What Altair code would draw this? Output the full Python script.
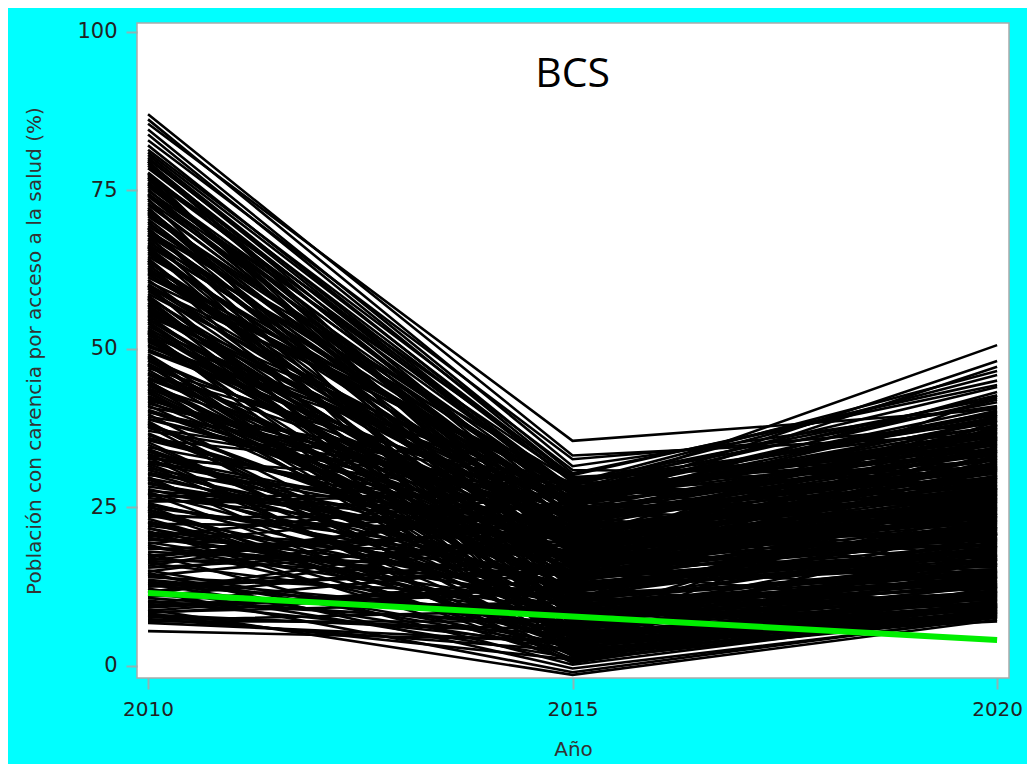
import altair as alt
import pandas as pd

years = [2010, 2015, 2020]

v2010 = [
    87.0, 86.2, 85.5, 84.6, 83.8, 82.9, 82.1, 81.4, 80.6, 79.9,
    79.2, 78.5, 77.8, 77.1, 76.3, 75.6, 74.9, 74.1, 73.4, 72.7,
    72.0, 71.2, 70.5, 69.8, 69.0, 68.3, 67.5, 66.8, 66.1, 65.3,
    64.6, 63.9, 63.1, 62.4, 61.7, 60.9, 60.2, 59.5, 58.7, 58.0,
    57.3, 56.5, 55.8, 55.1, 54.3, 53.6, 52.9, 52.1, 51.4, 50.7,
    49.9, 49.2, 48.5, 47.7, 47.0, 46.3, 45.5, 44.8, 44.1, 43.3,
    42.6, 41.9, 41.1, 40.4, 39.7, 38.9, 38.2, 37.5, 36.7, 36.0,
    35.3, 34.5, 33.8, 33.1, 32.3, 31.6, 30.9, 30.1, 29.4, 28.7,
    27.9, 27.2, 26.5, 25.7, 25.0, 24.3, 23.5, 22.8, 22.1, 21.3,
    20.6, 19.9, 19.1, 18.4, 17.7, 16.9, 16.2, 15.5, 14.7, 14.0,
    13.3, 12.5, 11.8, 11.1, 10.3, 9.6, 8.9, 8.1, 7.4, 5.5,
    78.9, 76.7, 74.5, 71.6, 69.4, 67.2, 65.0, 62.8, 60.6, 58.4,
    56.2, 54.0, 51.8, 49.6, 47.4, 45.2, 43.0, 40.8, 38.6, 36.4,
    34.2, 32.0, 29.8, 27.6, 25.4, 23.2, 21.0, 18.8, 16.6, 14.4,
    12.9, 10.7, 8.5, 7.0, 81.0, 79.5, 77.4, 75.2, 73.0, 70.9,
    68.7, 66.5, 64.3, 62.1, 59.9, 57.7, 55.5, 53.3, 51.1, 48.9,
    77.6, 75.9, 73.7, 71.9, 70.1, 68.0, 66.3, 64.0, 61.9, 59.7,
    57.9, 56.0, 54.6, 52.4, 50.3, 48.2, 46.0, 44.4, 42.2, 40.0,
    38.0, 35.8, 33.5, 31.2, 29.0, 26.8, 24.6, 22.4, 20.2, 18.0,
    15.8, 13.6, 11.4, 9.2, 7.7, 80.2, 76.0, 72.3, 67.9, 63.5,
    59.1, 54.8, 50.5, 46.7, 42.4, 37.8, 33.3, 28.9, 24.7, 20.4,
    16.4, 12.2, 8.7, 71.4, 65.7, 61.3, 56.8, 52.6, 48.1, 43.6,
    39.3, 34.9, 30.5, 26.1, 21.7, 17.4, 13.0, 9.9, 7.2, 6.8,
    79.6, 74.3, 69.1, 63.7, 58.2, 53.0, 47.6, 41.4, 35.6, 30.3,
    25.9, 19.5, 14.9, 10.9, 77.0, 68.6, 60.0, 45.9, 32.7, 23.9,
    45.0, 41.7, 37.1, 32.9, 28.3, 23.8, 19.3, 15.1, 11.6, 8.3,
    52.7, 48.7, 44.5, 39.0, 34.1, 29.6, 25.2, 20.9, 17.1, 12.7,
    66.0, 62.6, 57.0, 51.6, 46.1, 40.2, 31.9, 27.0, 22.6, 18.6,
    14.2, 10.1, 9.4, 8.0, 27.4, 33.0, 43.8, 55.3, 38.3, 21.8,
]
v2015 = [
    33.2, 31.5, 35.5, 30.4, 29.8, 32.6, 28.9, 30.9, 27.5, 29.2,
    26.8, 28.1, 24.5, 27.9, 22.3, 25.6, 29.5, 21.0, 26.2, 23.7,
    20.4, 27.1, 18.6, 24.9, 16.3, 22.8, 19.7, 28.4, 15.2, 21.6,
    25.3, 13.8, 23.1, 17.9, 26.6, 12.5, 20.8, 14.6, 24.2, 18.3,
    11.4, 22.0, 16.7, 27.3, 10.2, 19.4, 13.1, 25.8, 9.3, 17.2,
    23.9, 8.4, 20.1, 14.9, 26.0, 7.5, 18.9, 12.0, 22.6, 6.8,
    16.0, 24.6, 10.9, 19.0, 5.9, 21.4, 13.6, 27.7, 8.9, 17.6,
    4.8, 22.2, 11.7, 15.6, 20.5, 3.9, 14.1, 25.0, 7.2, 18.1,
    12.8, 2.9, 19.8, 9.7, 16.4, 1.8, 23.4, 6.3, 14.3, 0.9,
    10.4, 17.3, 4.2, 21.1, 0.2, 13.3, 8.1, 19.2, -0.4, 11.0,
    6.6, 15.1, -1.0, 9.0, 3.3, 12.2, -1.4, 5.1, 2.4, 4.0,
    23.0, 19.1, 27.0, 14.0, 25.4, 11.2, 21.7, 16.8, 28.7, 9.9,
    26.3, 7.9, 15.8, 24.0, 5.4, 20.7, 12.4, 29.0, 2.2, 17.0,
    10.6, 19.6, 1.1, 22.9, 13.9, 4.5, 17.8, 8.6, 24.8, 3.0,
    14.7, 6.1, 10.1, 7.0, 29.6, 24.3, 30.1, 17.4, 22.4, 26.4,
    15.4, 24.1, 9.5, 28.0, 18.7, 6.5, 23.6, 13.0, 20.9, 3.5,
    12.1, 27.6, 5.0, 20.2, 15.9, 2.6, 25.1, 9.1, 18.4, 28.2,
    6.9, 21.3, 14.4, 1.5, 27.4, 10.8, 23.3, 4.4, 16.6, 25.9,
    13.5, 28.6, 0.5, 18.5, 8.3, 26.8, 3.7, 21.8, 11.6, 15.0,
    26.1, 7.7, 20.0, 12.7, 5.7, 26.9, 20.5, 11.9, 25.2, 3.2,
    22.5, 16.2, 28.3, 9.2, 19.3, 2.8, 24.4, 14.8, 6.0, 27.2,
    18.2, 1.3, 13.7, 19.9, 7.4, 27.8, 15.5, 4.6, 22.1, 10.0,
    28.8, 5.2, 16.9, 24.7, 9.8, 21.9, 2.5, 16.1, 8.8, 3.8,
    18.0, 23.8, 8.0, 21.2, 13.4, 25.5, 6.2, 24.0, 19.4, 12.3,
    27.1, 9.4, 23.2, 17.7, 16.0, 29.3, 1.9, 15.3, 28.1, 20.3,
    5.6, 14.5, 26.2, 1.6, 19.1, 10.3, 25.7, 3.4, 21.5, 12.6,
    18.8, 2.0, 11.3, 22.7, 7.1, 17.1, 0.7, 13.2, 24.5, 8.2,
    10.7, 19.5, 4.3, 13.9, 26.5, 16.3, 7.6, 22.4, 4.9, 14.2,
    20.6, 6.7, 11.5, 1.0, 9.6, 20.0, 17.5, 8.7, 5.5, 2.7,
]
v2020 = [
    36.5, 41.0, 40.5, 44.3, 33.1, 38.2, 46.5, 30.2, 42.7, 35.4,
    50.6, 32.4, 28.7, 39.6, 25.1, 48.1, 34.8, 27.3, 37.9, 31.2,
    22.6, 36.1, 19.8, 47.2, 26.5, 33.7, 20.9, 45.9, 24.3, 29.6,
    38.8, 17.5, 30.9, 23.4, 42.0, 15.8, 28.2, 21.1, 35.6, 26.0,
    14.2, 32.8, 24.7, 40.1, 12.9, 27.9, 18.6, 36.8, 13.4, 25.5,
    34.2, 11.6, 29.3, 21.8, 37.3, 10.5, 27.0, 16.9, 31.6, 9.8,
    22.9, 33.4, 15.3, 28.5, 11.2, 30.6, 19.2, 39.2, 12.4, 24.8,
    8.9, 35.0, 17.8, 23.9, 31.8, 8.4, 20.3, 43.2, 13.0, 26.8,
    18.0, 9.2, 30.0, 14.8, 25.8, 7.9, 33.9, 11.9, 21.5, 8.1,
    16.1, 27.6, 9.6, 32.1, 8.6, 22.3, 12.7, 29.1, 7.6, 19.5,
    11.0, 24.0, 7.8, 17.0, 9.9, 20.8, 7.3, 10.2, 8.3, 7.0,
    29.8, 21.4, 37.0, 18.3, 34.4, 14.5, 27.4, 23.1, 41.6, 12.2,
    39.9, 10.8, 20.0, 35.3, 9.4, 30.4, 16.4, 42.3, 8.8, 24.5,
    15.0, 28.0, 7.7, 31.3, 21.0, 9.0, 26.2, 13.7, 36.3, 8.0,
    22.0, 12.6, 18.9, 11.5, 34.0, 26.3, 45.0, 19.0, 33.0, 38.5,
    25.2, 36.6, 14.0, 44.0, 27.7, 10.0, 32.5, 18.2, 29.0, 9.3,
    17.3, 31.0, 9.7, 39.4, 23.6, 8.2, 25.6, 35.8, 14.4, 33.5,
    13.2, 38.0, 19.7, 8.5, 28.9, 24.0, 15.6, 11.3, 33.2, 21.7,
    36.0, 20.6, 10.4, 27.2, 16.7, 40.8, 12.0, 29.4, 22.7, 9.1,
    30.7, 13.5, 24.9, 15.9, 10.6, 29.5, 18.4, 23.0, 40.3, 11.8,
    19.9, 34.6, 26.7, 14.1, 37.6, 10.9, 22.1, 32.7, 17.1, 36.9,
    26.6, 8.7, 21.2, 28.4, 16.2, 35.1, 12.1, 30.1, 20.4, 38.1,
    31.4, 12.8, 36.2, 18.7, 27.1, 14.7, 23.7, 25.4, 13.9, 9.5,
    42.6, 27.5, 11.4, 20.1, 38.7, 16.5, 29.7, 13.8, 37.5, 21.9,
    35.7, 19.4, 31.9, 26.4, 24.2, 37.7, 9.9, 22.5, 39.0, 30.8,
    15.2, 24.6, 34.8, 9.4, 31.1, 13.1, 37.2, 8.4, 28.6, 17.6,
    26.1, 9.6, 32.3, 16.0, 20.7, 39.6, 8.9, 25.0, 34.1, 14.3,
    21.6, 12.3, 17.4, 33.8, 23.3, 15.5, 28.1, 19.6, 11.1, 31.5,
    23.2, 16.8, 10.3, 12.5, 27.9, 18.8, 25.9, 14.9, 20.9, 11.7,
]
green_values = [11.5, 7.8, 4.1]

rows = []
for i, (a, b, c) in enumerate(zip(v2010, v2015, v2020)):
    for yr, v in zip(years, (a, b, c)):
        rows.append({"id": i, "year": yr, "value": v})
df = pd.DataFrame(rows)
green = pd.DataFrame({"year": years, "value": green_values})
title_df = pd.DataFrame({"year": [2015], "value": [93.2], "label": ["BCS"]})

xscale = alt.Scale(domain=[2009.87, 2020.14], nice=False, zero=False)
yscale = alt.Scale(domain=[-1.9, 101.4], nice=False, zero=False)

axis_common = dict(
    grid=False, domain=False, tickColor="#8fb3b3", tickSize=11, tickWidth=2,
    labelFont="DejaVu Sans", labelColor="#222222",
    titleFont="DejaVu Sans", titleFontSize=20, titleColor="#333333",
    titleFontWeight="normal",
)

x = alt.X("year:Q", scale=xscale, title="Año",
          axis=alt.Axis(values=years, format="d", labelPadding=10, titlePadding=20,
                        labelFontSize=20, **axis_common))
y = alt.Y("value:Q", scale=yscale, title="Población con carencia por acceso a la salud (%)",
          axis=alt.Axis(values=[0, 25, 50, 75, 100], labelPadding=9, titlePadding=32,
                        labelFontSize=21, **axis_common))

lines = alt.Chart(df).mark_line(color="black", strokeWidth=2.6).encode(
    x=x, y=y, detail="id:N")
green_line = alt.Chart(green).mark_line(color="#00ee00", strokeWidth=6).encode(
    x="year:Q", y="value:Q")
title = alt.Chart(title_df).mark_text(font="Open Sans", fontSize=41, color="black").encode(
    x="year:Q", y="value:Q", text="label:N")

chart = alt.layer(lines, green_line, title).properties(
    width=872, height=655,
    padding={"left": 129, "top": 15, "right": 18, "bottom": 86},
    autosize=alt.AutoSizeParams(type="none"),
    background="#00FFFF",
).configure_view(fill="white", stroke="#aaaaaa", strokeWidth=1.5)

chart.save("out.html", embed_options={"renderer": "svg", "actions": False})
